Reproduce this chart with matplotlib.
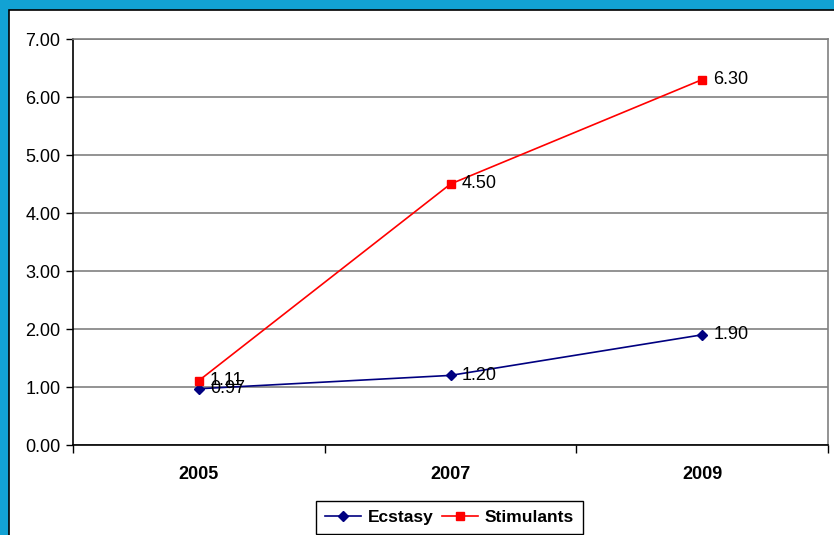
import matplotlib.pyplot as plt
from matplotlib.patches import Rectangle

years = ["2005", "2007", "2009"]
ecstasy = [0.97, 1.20, 1.90]
stimulants = [1.11, 4.50, 6.30]

plt.rcParams['font.family'] = ['Liberation Sans', 'DejaVu Sans']

fig = plt.figure(figsize=(8.34, 5.35), dpi=100)
fig.patch.set_facecolor('#12A2D4')
# white panel with a dark edge on the left and top
fig.patches.append(Rectangle((9 / 834, -0.1), 1.2, 1 - 10 / 535 + 0.1,
                             transform=fig.transFigure, facecolor='white',
                             edgecolor='black', linewidth=1.2, zorder=-5))

ax = fig.add_axes([73 / 834, 1 - 445 / 535, (828 - 73) / 834, (445 - 39) / 535])
ax.set_facecolor('none')
x = range(len(years))

ax.plot(x, ecstasy, color='#000080', marker='D', markersize=5, linewidth=1.2,
        label='Ecstasy', zorder=3)
ax.plot(x, stimulants, color='#FF0000', marker='s', markersize=6, linewidth=1.2,
        label='Stimulants', zorder=3)

for xi, v in zip(x, ecstasy):
    ax.annotate(f"{v:.2f}", (xi, v), xytext=(8, 0), textcoords='offset points',
                va='center', ha='left', fontsize=13, zorder=4)
for xi, v in zip(x, stimulants):
    ax.annotate(f"{v:.2f}", (xi, v), xytext=(8, 0), textcoords='offset points',
                va='center', ha='left', fontsize=13, zorder=4)

ax.set_xlim(-0.5, 2.5)
ax.set_ylim(0, 7)
ax.set_yticks([0, 1, 2, 3, 4, 5, 6, 7])
ax.set_yticklabels([f"{t:.2f}" for t in range(8)], fontsize=13)
ax.set_xticks(list(x))
ax.set_xticklabels(years, fontsize=13, fontweight='bold')
ax.tick_params(axis='x', which='major', length=0, pad=15)
ax.set_xticks([-0.5, 0.5, 1.5, 2.5], minor=True)
ax.tick_params(axis='x', which='minor', length=6, width=1, direction='out')
ax.tick_params(axis='y', length=5, width=1, direction='out', pad=4)

ax.grid(axis='y', color='#808080', linewidth=1.2)
ax.set_axisbelow(True)
ax.spines['left'].set_color('black')
ax.spines['bottom'].set_color('black')
ax.spines['top'].set_color('#808080')
ax.spines['right'].set_color('#808080')
for s in ax.spines.values():
    s.set_linewidth(1.2)

leg = fig.legend(loc='lower center', bbox_to_anchor=(449.5 / 834, 1 / 535), ncol=2,
                 fancybox=False, framealpha=1, edgecolor='black',
                 prop={'weight': 'bold', 'size': 12.5}, handlelength=2.07,
                 handletextpad=0.4, columnspacing=0.5, borderpad=0.5,
                 borderaxespad=0)
leg.get_frame().set_linewidth(1.0)

fig.savefig('out.png', dpi=100)
